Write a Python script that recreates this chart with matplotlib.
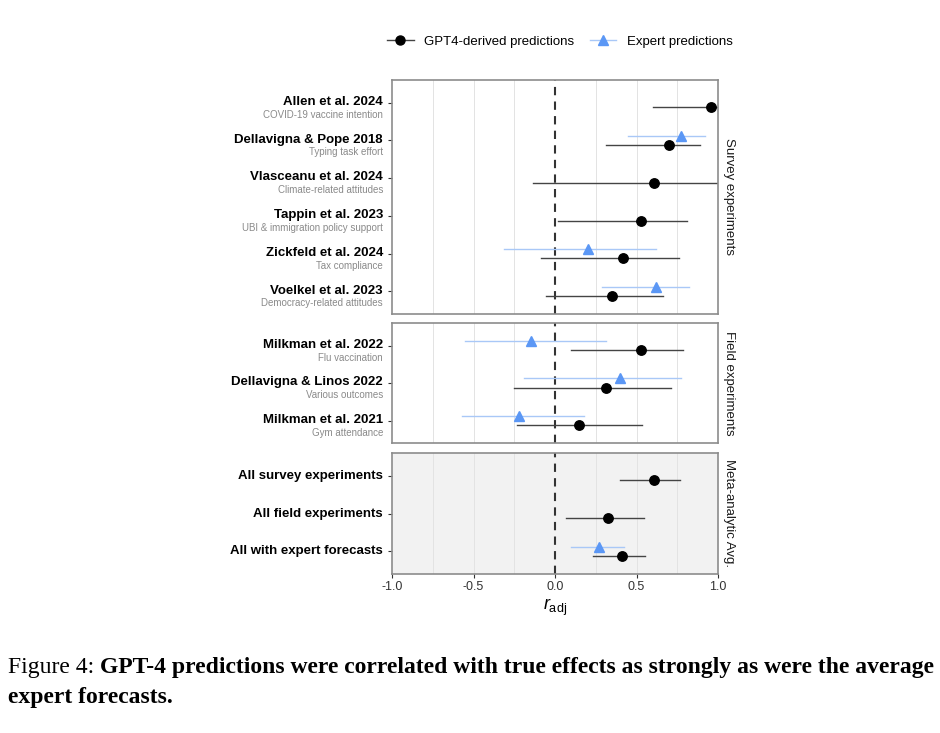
import matplotlib
matplotlib.use("Agg")
import matplotlib.pyplot as plt
from matplotlib.lines import Line2D
from matplotlib.transforms import blended_transform_factory

plt.rcParams['font.family'] = ['Liberation Sans', 'DejaVu Sans']
plt.rcParams['mathtext.fontset'] = 'custom'
plt.rcParams['mathtext.rm'] = 'Liberation Sans'
plt.rcParams['mathtext.it'] = 'Liberation Sans:italic'

# ---- data ----
panel_names = ["Survey experiments", "Field experiments", "Meta-analytic Avg."]

survey_titles = ["Allen et al. 2024", "Dellavigna & Pope 2018", "Vlasceanu et al. 2024",
                 "Tappin et al. 2023", "Zickfeld et al. 2024", "Voelkel et al. 2023"]
survey_subs = ["COVID-19 vaccine intention", "Typing task effort", "Climate-related attitudes",
               "UBI & immigration policy support", "Tax compliance", "Democracy-related attitudes"]
survey_gpt = [0.96, 0.70, 0.61, 0.53, 0.42, 0.35]
survey_gpt_lo = [0.60, 0.31, -0.135, 0.02, -0.085, -0.055]
survey_gpt_hi = [1.05, 0.89, 1.05, 0.81, 0.76, 0.66]
survey_exp = [None, 0.775, None, None, 0.20, 0.62]
survey_exp_lo = [None, 0.45, None, None, -0.31, 0.29]
survey_exp_hi = [None, 0.92, None, None, 0.62, 0.82]

field_titles = ["Milkman et al. 2022", "Dellavigna & Linos 2022", "Milkman et al. 2021"]
field_subs = ["Flu vaccination", "Various outcomes", "Gym attendance"]
field_gpt = [0.525, 0.31, 0.145]
field_gpt_lo = [0.10, -0.25, -0.235]
field_gpt_hi = [0.785, 0.71, 0.535]
field_exp = [-0.145, 0.40, -0.22]
field_exp_lo = [-0.55, -0.19, -0.57]
field_exp_hi = [0.31, 0.77, 0.18]

meta_titles = ["All survey experiments", "All field experiments", "All with expert forecasts"]
meta_subs = ["", "", ""]
meta_gpt = [0.61, 0.325, 0.41]
meta_gpt_lo = [0.40, 0.065, 0.235]
meta_gpt_hi = [0.765, 0.545, 0.555]
meta_exp = [None, None, 0.27]
meta_exp_lo = [None, None, 0.10]
meta_exp_hi = [None, None, 0.425]

panels = [
    (survey_titles, survey_subs, survey_gpt, survey_gpt_lo, survey_gpt_hi, survey_exp, survey_exp_lo, survey_exp_hi),
    (field_titles, field_subs, field_gpt, field_gpt_lo, field_gpt_hi, field_exp, field_exp_lo, field_exp_hi),
    (meta_titles, meta_subs, meta_gpt, meta_gpt_lo, meta_gpt_hi, meta_exp, meta_exp_lo, meta_exp_hi),
]

x_ticks = [-1.0, -0.5, 0.0, 0.5, 1.0]

W, H = 940, 733
fig = plt.figure(figsize=(W / 100, H / 100), dpi=100)

left_px, right_px = 392, 718
panel_px = [(80, 314), (323, 443), (453, 574)]
bg_colors = ["white", "white", "#F2F2F2"]
border = "#8C8C8C"
gpt_color = "black"
gpt_line = "#444444"
exp_color = "#5B97F5"
exp_line = "#A9C8F7"
dodge = 0.125

axes = []
for i, (top, bot) in enumerate(panel_px):
    ax = fig.add_axes([left_px / W, 1 - bot / H, (right_px - left_px) / W, (bot - top) / H])
    axes.append(ax)
    titles, subs, g, glo, ghi, e, elo, ehi = panels[i]
    n = len(titles)
    ax.set_facecolor(bg_colors[i])
    ax.set_xlim(-1, 1)
    ax.set_ylim(n - 1 + 0.6, -0.6)
    for xv in [-0.75, -0.5, -0.25, 0.25, 0.5, 0.75]:
        ax.axvline(xv, color="#E3E3E3", lw=0.7, zorder=0)
    ax.axvline(0, color="#333333", lw=1.5, ls=(0, (4, 3)), zorder=1)

    for k in range(n):
        yk = k + dodge
        ax.plot([glo[k], ghi[k]], [yk, yk], color=gpt_line, lw=1.0, zorder=2, clip_on=True)
        ax.plot(g[k], yk, "o", color=gpt_color, ms=6.8, zorder=4)
        if e[k] is not None:
            ye = k - dodge
            ax.plot([elo[k], ehi[k]], [ye, ye], color=exp_line, lw=1.0, zorder=2)
            ax.plot(e[k], ye, "^", color=exp_color, ms=7.5, zorder=3)

    ax.set_yticks(range(n))
    ax.set_yticklabels([])
    ax.tick_params(axis="y", length=3, color="#333333", width=0.8)
    ax.set_xticks(x_ticks)
    for sp in ax.spines.values():
        sp.set_color(border)
        sp.set_linewidth(1.2)

    trans = blended_transform_factory(fig.transFigure, ax.transData)
    for k in range(n):
        if subs[k]:
            ax.text(383 / W, k - 0.02, titles[k], transform=trans, ha="right", va="center",
                    fontsize=9.5, fontweight="bold", color="black")
            ax.text(383 / W, k + 0.32, subs[k], transform=trans, ha="right", va="center",
                    fontsize=7, color="#8A8A8A")
        else:
            ax.text(383 / W, k, titles[k], transform=trans, ha="right", va="center",
                    fontsize=9.5, fontweight="bold", color="black")

    ax.text(1 + 5 / (right_px - left_px), 0.5, panel_names[i], transform=ax.transAxes,
            rotation=-90, ha="left", va="center", fontsize=9.5, color="#1A1A1A")

    if i < 2:
        ax.tick_params(axis="x", length=0, labelbottom=False)
    else:
        ax.tick_params(axis="x", length=3, color="#333333", width=0.8, labelsize=9,
                       labelcolor="#333333", pad=2)
        ax.set_xticklabels(["-1.0", "-0.5", "0.0", "0.5", "1.0"])
        ax.set_xlabel(r"$r_{\mathrm{adj}}$", fontsize=13, labelpad=3)

handles = [
    Line2D([0], [0], color=gpt_line, lw=1.0, marker="o", markersize=6.5, markerfacecolor=gpt_color,
           markeredgecolor=gpt_color),
    Line2D([0], [0], color=exp_line, lw=1.0, marker="^", markersize=7.5, markerfacecolor=exp_color,
           markeredgecolor=exp_color),
]
fig.legend(handles, ["GPT4-derived predictions", "Expert predictions"], loc="center",
           bbox_to_anchor=(560 / W, 1 - 42 / H), ncol=2, frameon=False, fontsize=9.5,
           handlelength=2.0, columnspacing=1.2, handletextpad=0.8)

cap_kw = dict(fontsize=17, family=["Liberation Serif", "DejaVu Serif"], va="baseline")
t1 = fig.text(8 / W, 1 - 673 / H, "Figure 4: ", **cap_kw)
fig.canvas.draw()
bb = t1.get_window_extent()
fig.text(bb.x1 / W, 1 - 673 / H, "GPT-4 predictions were correlated with true effects as strongly as were the average",
         fontweight="bold", **cap_kw)
fig.text(8 / W, 1 - 703 / H, "expert forecasts.", fontweight="bold", **cap_kw)

fig.savefig("out.png", dpi=100, facecolor="white")
